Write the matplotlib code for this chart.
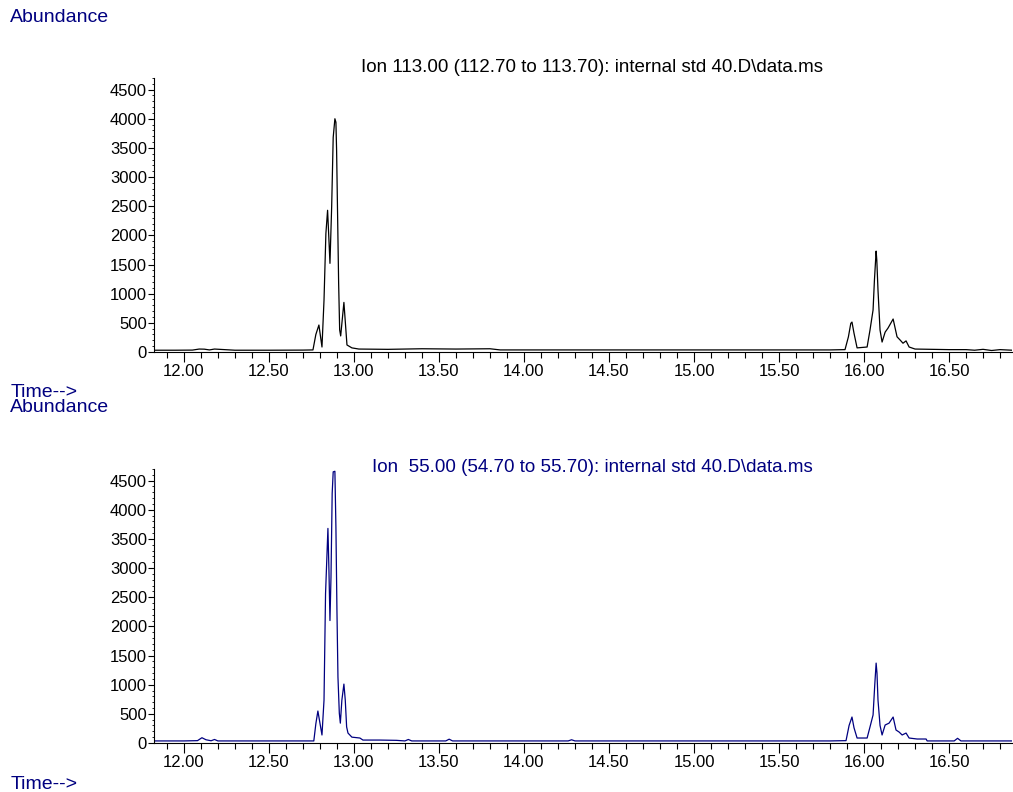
import matplotlib
matplotlib.use("Agg")
import matplotlib.pyplot as plt
from matplotlib.ticker import MultipleLocator, FormatStrFormatter

plt.rcParams['font.family'] = ['Liberation Sans', 'DejaVu Sans']

NAVY = '#000080'

# --- Ion 113.00 trace (time in min, abundance) ---
ion113_time = [11.82, 11.95, 12.05, 12.09, 12.12, 12.15, 12.18, 12.21, 12.30, 12.50, 12.70, 12.759,
               12.776, 12.794, 12.812, 12.824, 12.835, 12.845, 12.853, 12.859, 12.869, 12.878,
               12.888, 12.894, 12.898, 12.904, 12.910, 12.916, 12.922, 12.941, 12.959,
               12.988, 13.029, 13.20, 13.40, 13.60, 13.80, 13.86, 14.20, 14.60, 15.00, 15.40,
               15.80, 15.888, 15.908, 15.922, 15.929, 15.941, 15.959, 16.018, 16.035, 16.053,
               16.061, 16.071, 16.075, 16.082, 16.094, 16.106, 16.124, 16.141, 16.171, 16.194,
               16.212, 16.229, 16.247, 16.265, 16.30, 16.50, 16.60, 16.65, 16.70, 16.75,
               16.80, 16.87]
ion113_abund = [30, 30, 32, 50, 48, 35, 50, 45, 30, 30, 32, 35,
                300, 462, 85, 890, 2030, 2430, 1920, 1520, 2490, 3680,
                4000, 3940, 3460, 2320, 1180, 380, 275, 850, 120,
                70, 50, 45, 55, 50, 55, 35, 35, 35, 35, 35,
                35, 40, 260, 490, 513, 320, 70, 85, 376, 720,
                1230, 1730, 1575, 1060, 376, 170, 340, 410, 565, 260,
                205, 150, 190, 85, 50, 40, 40, 30, 45, 25,
                40, 30]

# --- Ion 55.00 trace ---
ion55_time = [11.82, 12.00, 12.08, 12.106, 12.13, 12.16, 12.18, 12.20, 12.40, 12.60, 12.764,
              12.776, 12.788, 12.812, 12.824, 12.833, 12.847, 12.853, 12.859, 12.865, 12.872,
              12.878, 12.888, 12.894, 12.900, 12.906, 12.914, 12.920, 12.929, 12.941, 12.949,
              12.957, 12.965, 12.988, 13.035, 13.053, 13.15, 13.25, 13.30, 13.32,
              13.34, 13.54, 13.56, 13.58, 14.00, 14.26, 14.28, 14.30, 15.00, 15.50, 15.80,
              15.894, 15.912, 15.929, 15.941, 15.959, 16.018, 16.035, 16.053, 16.063, 16.071,
              16.076, 16.082, 16.094, 16.106, 16.124, 16.147, 16.171, 16.188, 16.206, 16.224,
              16.247, 16.265, 16.312, 16.365, 16.371, 16.53, 16.55, 16.57, 16.87]
ion55_abund = [35, 35, 40, 90, 55, 38, 60, 35, 35, 35, 35,
               330, 548, 137, 735, 2560, 3680, 2960, 2100, 2840, 4280,
               4650, 4660, 3700, 2280, 1130, 510, 340, 735, 1010, 735,
               275, 170, 100, 85, 50, 50, 45, 35, 60,
               35, 35, 65, 35, 35, 35, 55, 35, 35, 35, 35,
               40, 300, 445, 260, 85, 85, 275, 480, 1000, 1370,
               1200, 735, 300, 137, 308, 340, 445, 222, 188, 137,
               170, 85, 68, 68, 35, 35, 80, 35, 35]

x_limits = (11.824, 16.87)
y_limits = (0, 4700)

fig = plt.figure(figsize=(10.13, 7.92), dpi=100)


def style_axes(ax):
    ax.set_xlim(*x_limits)
    ax.set_ylim(*y_limits)
    for side in ('top', 'right'):
        ax.spines[side].set_visible(False)
    ax.spines['left'].set_linewidth(0.8)
    ax.spines['bottom'].set_linewidth(0.8)
    ax.xaxis.set_major_locator(MultipleLocator(0.5))
    ax.xaxis.set_minor_locator(MultipleLocator(0.1))
    ax.xaxis.set_major_formatter(FormatStrFormatter('%.2f'))
    ax.yaxis.set_major_locator(MultipleLocator(500))
    ax.yaxis.set_minor_locator(MultipleLocator(100))
    ax.tick_params(axis='x', which='major', length=7, width=0.8, labelsize=12, pad=2)
    ax.tick_params(axis='x', which='minor', length=4, width=0.8)
    ax.tick_params(axis='y', which='major', length=4, width=0.8, labelsize=12, pad=1)
    ax.tick_params(axis='y', which='minor', length=1.5, width=0.6)
    ax.set_facecolor('white')


ax_top = fig.add_axes([0.152, 0.5556, 0.847, 0.346])
ax_top.plot(ion113_time, ion113_abund, color='black', linewidth=0.9)
style_axes(ax_top)

ax_bot = fig.add_axes([0.152, 0.0619, 0.847, 0.346])
ax_bot.plot(ion55_time, ion55_abund, color=NAVY, linewidth=0.9)
style_axes(ax_bot)

# header / footer labels in the ChemStation style
fig.text(0.010, 0.978, 'Abundance', color=NAVY, fontsize=14, va='center', ha='left')
fig.text(0.584, 0.915, 'Ion 113.00 (112.70 to 113.70): internal std 40.D\\data.ms',
         color='black', fontsize=13.5, va='center', ha='center')
fig.text(0.010, 0.505, 'Time-->', color=NAVY, fontsize=14, va='center', ha='left')
fig.text(0.010, 0.486, 'Abundance', color=NAVY, fontsize=14, va='center', ha='left')
fig.text(0.585, 0.410, 'Ion  55.00 (54.70 to 55.70): internal std 40.D\\data.ms',
         color=NAVY, fontsize=13.5, va='center', ha='center')
fig.text(0.010, 0.009, 'Time-->', color=NAVY, fontsize=14, va='center', ha='left')

fig.savefig('out.png', dpi=100, facecolor='white')
